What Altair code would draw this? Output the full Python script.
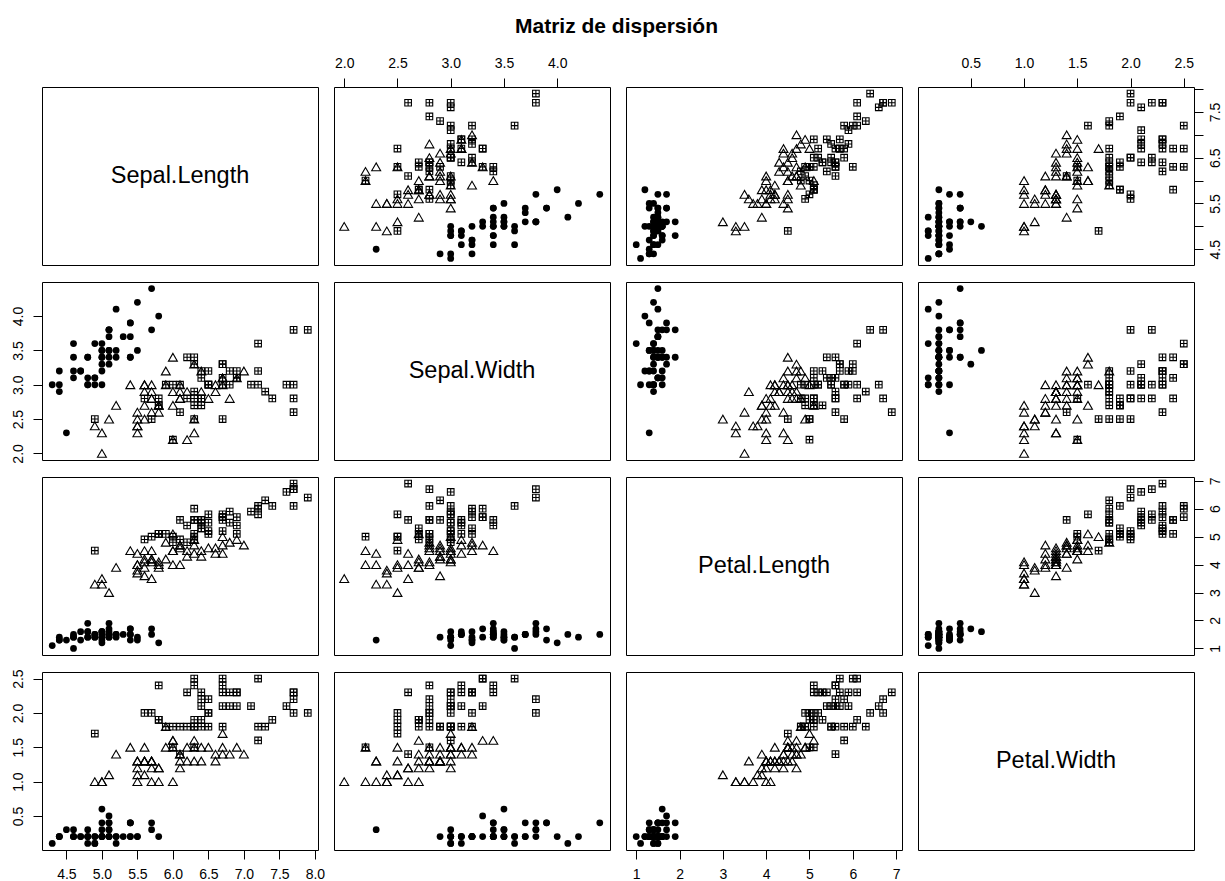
import altair as alt
import pandas as pd

# ---------------------------------------------------------------------------
# Iris measurements (150 flowers, 50 per species), in row order
# ---------------------------------------------------------------------------
sepal_length = [
    5.1, 4.9, 4.7, 4.6, 5.0, 5.4, 4.6, 5.0, 4.4, 4.9, 5.4, 4.8, 4.8, 4.3, 5.8, 5.7, 5.4, 5.1, 5.7, 5.1,
    5.4, 5.1, 4.6, 5.1, 4.8, 5.0, 5.0, 5.2, 5.2, 4.7, 4.8, 5.4, 5.2, 5.5, 4.9, 5.0, 5.5, 4.9, 4.4, 5.1,
    5.0, 4.5, 4.4, 5.0, 5.1, 4.8, 5.1, 4.6, 5.3, 5.0,
    7.0, 6.4, 6.9, 5.5, 6.5, 5.7, 6.3, 4.9, 6.6, 5.2, 5.0, 5.9, 6.0, 6.1, 5.6, 6.7, 5.6, 5.8, 6.2, 5.6,
    5.9, 6.1, 6.3, 6.1, 6.4, 6.6, 6.8, 6.7, 6.0, 5.7, 5.5, 5.5, 5.8, 6.0, 5.4, 6.0, 6.7, 6.3, 5.6, 5.5,
    5.5, 6.1, 5.8, 5.0, 5.6, 5.7, 5.7, 6.2, 5.1, 5.7,
    6.3, 5.8, 7.1, 6.3, 6.5, 7.6, 4.9, 7.3, 6.7, 7.2, 6.5, 6.4, 6.8, 5.7, 5.8, 6.4, 6.5, 7.7, 7.7, 6.0,
    6.9, 5.6, 7.7, 6.3, 6.7, 7.2, 6.2, 6.1, 6.4, 7.2, 7.4, 7.9, 6.4, 6.3, 6.1, 7.7, 6.3, 6.4, 6.0, 6.9,
    6.7, 6.9, 5.8, 6.8, 6.7, 6.7, 6.3, 6.5, 6.2, 5.9,
]
sepal_width = [
    3.5, 3.0, 3.2, 3.1, 3.6, 3.9, 3.4, 3.4, 2.9, 3.1, 3.7, 3.4, 3.0, 3.0, 4.0, 4.4, 3.9, 3.5, 3.8, 3.8,
    3.4, 3.7, 3.6, 3.3, 3.4, 3.0, 3.4, 3.5, 3.4, 3.2, 3.1, 3.4, 4.1, 4.2, 3.1, 3.2, 3.5, 3.6, 3.0, 3.4,
    3.5, 2.3, 3.2, 3.5, 3.8, 3.0, 3.8, 3.2, 3.7, 3.3,
    3.2, 3.2, 3.1, 2.3, 2.8, 2.8, 3.3, 2.4, 2.9, 2.7, 2.0, 3.0, 2.2, 2.9, 2.9, 3.1, 3.0, 2.7, 2.2, 2.5,
    3.2, 2.8, 2.5, 2.8, 2.9, 3.0, 2.8, 3.0, 2.9, 2.6, 2.4, 2.4, 2.7, 2.7, 3.0, 3.4, 3.1, 2.3, 3.0, 2.5,
    2.6, 3.0, 2.6, 2.3, 2.7, 3.0, 2.9, 2.9, 2.5, 2.8,
    3.3, 2.7, 3.0, 2.9, 3.0, 3.0, 2.5, 2.9, 2.5, 3.6, 3.2, 2.7, 3.0, 2.5, 2.8, 3.2, 3.0, 3.8, 2.6, 2.2,
    3.2, 2.8, 2.8, 2.7, 3.3, 3.2, 2.8, 3.0, 2.8, 3.0, 2.8, 3.8, 2.8, 2.8, 2.6, 3.0, 3.4, 3.1, 3.0, 3.1,
    3.1, 3.1, 2.7, 3.2, 3.3, 3.0, 2.5, 3.0, 3.4, 3.0,
]
petal_length = [
    1.4, 1.4, 1.3, 1.5, 1.4, 1.7, 1.4, 1.5, 1.4, 1.5, 1.5, 1.6, 1.4, 1.1, 1.2, 1.5, 1.3, 1.4, 1.7, 1.5,
    1.7, 1.5, 1.0, 1.7, 1.9, 1.6, 1.6, 1.5, 1.4, 1.6, 1.6, 1.5, 1.5, 1.4, 1.5, 1.2, 1.3, 1.4, 1.3, 1.5,
    1.3, 1.3, 1.3, 1.6, 1.9, 1.4, 1.6, 1.4, 1.5, 1.4,
    4.7, 4.5, 4.9, 4.0, 4.6, 4.5, 4.7, 3.3, 4.6, 3.9, 3.5, 4.2, 4.0, 4.7, 3.6, 4.4, 4.5, 4.1, 4.5, 3.9,
    4.8, 4.0, 4.9, 4.7, 4.3, 4.4, 4.8, 5.0, 4.5, 3.5, 3.8, 3.7, 3.9, 5.1, 4.5, 4.5, 4.7, 4.4, 4.1, 4.0,
    4.4, 4.6, 4.0, 3.3, 4.2, 4.2, 4.2, 4.3, 3.0, 4.1,
    6.0, 5.1, 5.9, 5.6, 5.8, 6.6, 4.5, 6.3, 5.8, 6.1, 5.1, 5.3, 5.5, 5.0, 5.1, 5.3, 5.5, 6.7, 6.9, 5.0,
    5.7, 4.9, 6.7, 4.9, 5.7, 6.0, 4.8, 4.9, 5.6, 5.8, 6.1, 6.4, 5.6, 5.1, 5.6, 6.1, 5.6, 5.5, 4.8, 5.4,
    5.6, 5.1, 5.1, 5.9, 5.7, 5.2, 5.0, 5.2, 5.4, 5.1,
]
petal_width = [
    0.2, 0.2, 0.2, 0.2, 0.2, 0.4, 0.3, 0.2, 0.2, 0.1, 0.2, 0.2, 0.1, 0.1, 0.2, 0.4, 0.4, 0.3, 0.3, 0.3,
    0.2, 0.4, 0.2, 0.5, 0.2, 0.2, 0.4, 0.2, 0.2, 0.2, 0.2, 0.4, 0.1, 0.2, 0.2, 0.2, 0.2, 0.1, 0.2, 0.2,
    0.3, 0.3, 0.2, 0.6, 0.4, 0.3, 0.2, 0.2, 0.2, 0.2,
    1.4, 1.5, 1.5, 1.3, 1.5, 1.3, 1.6, 1.0, 1.3, 1.4, 1.0, 1.5, 1.0, 1.4, 1.3, 1.4, 1.5, 1.0, 1.5, 1.1,
    1.8, 1.3, 1.5, 1.2, 1.3, 1.4, 1.4, 1.7, 1.5, 1.0, 1.1, 1.0, 1.2, 1.6, 1.5, 1.6, 1.5, 1.3, 1.3, 1.3,
    1.2, 1.4, 1.2, 1.0, 1.3, 1.2, 1.3, 1.3, 1.1, 1.3,
    2.5, 1.9, 2.1, 1.8, 2.2, 2.1, 1.7, 1.8, 1.8, 2.5, 2.0, 1.9, 2.1, 2.0, 2.4, 2.3, 1.8, 2.2, 2.3, 1.5,
    2.3, 2.0, 2.0, 1.8, 2.1, 1.8, 1.8, 1.8, 2.1, 1.6, 1.9, 2.0, 2.2, 1.5, 1.4, 2.3, 2.4, 1.8, 1.8, 2.1,
    2.4, 2.3, 1.9, 2.3, 2.5, 2.3, 1.9, 2.0, 2.3, 1.8,
]
species = ["setosa"] * 50 + ["versicolor"] * 50 + ["virginica"] * 50

# Variable keys (no dots, so Vega-Lite does not treat them as nested paths)
# and the names printed on the diagonal
var_keys = ["sepal_length", "sepal_width", "petal_length", "petal_width"]
var_names = ["Sepal.Length", "Sepal.Width", "Petal.Length", "Petal.Width"]

# Tick positions for the outer axes of the matrix
ticks = {
    "sepal_length": [4.5, 5.0, 5.5, 6.0, 6.5, 7.0, 7.5, 8.0],
    "sepal_width": [2.0, 2.5, 3.0, 3.5, 4.0],
    "petal_length": [1, 2, 3, 4, 5, 6, 7],
    "petal_width": [0.5, 1.0, 1.5, 2.0, 2.5],
}
tick_formats = {"sepal_length": ".1f", "sepal_width": ".1f", "petal_length": "d", "petal_width": ".1f"}
# labels actually printed on the right-hand Sepal.Length axis
sepal_length_right_labels = [4.5, 5.5, 6.5, 7.5]

title_text = "Matriz de dispersión"

df = pd.DataFrame({
    "sepal_length": sepal_length,
    "sepal_width": sepal_width,
    "petal_length": petal_length,
    "petal_width": petal_width,
    "species": species,
})

# Axis ranges padded by 4% on each side, like base-R plots
domains = {}
for k in var_keys:
    lo, hi = float(df[k].min()), float(df[k].max())
    pad = 0.04 * (hi - lo)
    domains[k] = [lo - pad, hi + pad]

PANEL_W, PANEL_H = 276, 178
FONT = "Liberation Sans"
BOXPLUS = "M-1,-1L1,-1L1,1L-1,1Z M0,-1L0,1 M-1,0L1,0"

common_axis = dict(
    domain=False, grid=False, ticks=True, tickSize=9, tickColor="black", tickWidth=1,
    labelFont=FONT, labelFontSize=14, labelColor="black", labelFlush=False,
    labelOverlap=False, title=None,
)


def x_axis(key, orient):
    return alt.Axis(orient=orient, values=ticks[key], format=tick_formats[key],
                    labelPadding=8, **common_axis)


def y_axis(key, orient, label_expr=None):
    opts = dict(orient=orient, values=ticks[key], format=tick_formats[key],
                labelAngle=270, labelAlign="center",
                labelBaseline="bottom" if orient == "left" else "top",
                labelPadding=8 if orient == "left" else 5, **common_axis)
    if label_expr is not None:
        opts["labelExpr"] = label_expr
    return alt.Axis(**opts)


def scatter_panel(i, j):
    xk, yk = var_keys[j], var_keys[i]
    # outer axes alternate, as in a pairs() matrix
    if i == 0 and j in (1, 3):
        xa = x_axis(xk, "top")
    elif i == 3 and j in (0, 2):
        xa = x_axis(xk, "bottom")
    else:
        xa = None
    if j == 0 and i in (1, 3):
        ya = y_axis(yk, "left")
    elif j == 3 and i in (0, 2):
        expr = None
        if yk == "sepal_length":
            cond = " || ".join(f"datum.value == {v}" for v in sepal_length_right_labels)
            expr = f"({cond}) ? datum.label : ''"
        ya = y_axis(yk, "right", expr)
    else:
        ya = None

    base = alt.Chart(df).encode(
        x=alt.X(f"{xk}:Q", scale=alt.Scale(domain=domains[xk], nice=False, zero=False), axis=xa),
        y=alt.Y(f"{yk}:Q", scale=alt.Scale(domain=domains[yk], nice=False, zero=False), axis=ya),
    )
    setosa = base.mark_point(shape="circle", filled=True, size=46, color="black",
                             opacity=1).transform_filter(alt.datum.species == "setosa")
    versicolor = base.mark_point(shape="triangle-up", filled=False, size=80, color="black",
                                 strokeWidth=1.1, opacity=1).transform_filter(alt.datum.species == "versicolor")
    virginica = base.mark_point(shape=BOXPLUS, filled=False, size=44, color="black",
                                strokeWidth=1.1, opacity=1).transform_filter(alt.datum.species == "virginica")
    return alt.layer(setosa, versicolor, virginica).properties(width=PANEL_W, height=PANEL_H)


def label_panel(k):
    lab = pd.DataFrame({"label": [var_names[k]], "x": [0.5], "y": [0.5]})
    return alt.Chart(lab).mark_text(font=FONT, fontSize=23.5, color="black").encode(
        x=alt.X("x:Q", scale=alt.Scale(domain=[0, 1]), axis=None),
        y=alt.Y("y:Q", scale=alt.Scale(domain=[0, 1]), axis=None),
        text="label:N",
    ).properties(width=PANEL_W, height=PANEL_H)


panels = []
for i in range(4):
    for j in range(4):
        panels.append(label_panel(i) if i == j else scatter_panel(i, j))

chart = alt.concat(
    *panels, columns=4, spacing=alt.RowColnumber(row=17, column=16), bounds="flush"
).properties(
    title=alt.TitleParams(title_text, font=FONT, fontSize=21, fontWeight="bold",
                          color="black", anchor="middle", offset=19),
    padding={"left": 10, "top": 15, "right": 1, "bottom": 0},
    background="white",
).configure_view(stroke="black", strokeWidth=1)

chart.save("out.html", embed_options={"renderer": "svg", "actions": False})
